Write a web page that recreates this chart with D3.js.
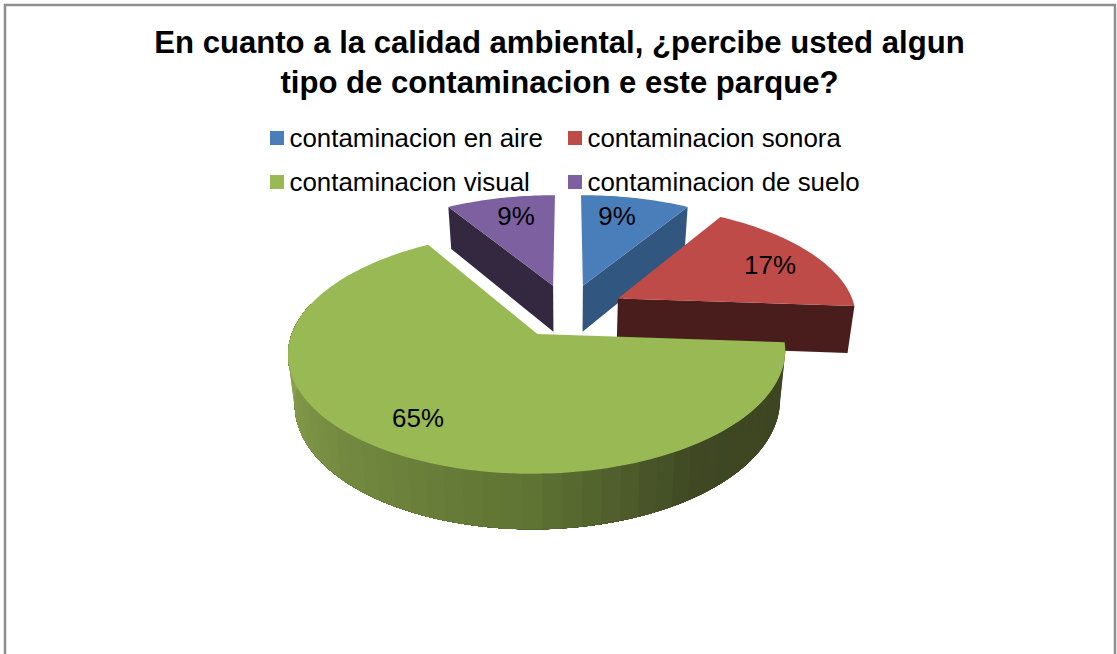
<!DOCTYPE html>
<html><head><meta charset="utf-8">
<script src="https://cdn.jsdelivr.net/npm/d3@7/dist/d3.min.js"></script>
<style>html,body{margin:0;padding:0;background:#fff}svg{display:block}text{font-family:"Liberation Sans",Arial,sans-serif;fill:#000}</style>
</head><body><svg id="c" width="1117" height="654"></svg>
<script>
const categories = ["contaminacion en aire","contaminacion sonora","contaminacion visual","contaminacion de suelo"];
const values = [8.7,17.4,65.2,8.7];
const labels = ["9%","17%","65%","9%"];
const topColors = ["#4a7ebb","#be4b48","#98b954","#7d60a0"];
const sideColors = ["#31567f","#4a1d1d","#5f7333","#332840"];
const titleLines = ["En cuanto a la calidad ambiental, ¿percibe usted algun","tipo de contaminacion e este parque?"];
const labelPos = [[617,218],[770,267],[418,420],[516,218]];

(function(){
const svg = d3.select("#c");
svg.append("rect").attr("width",1117).attr("height",654).attr("fill","#fff");
svg.append("rect").attr("x",5).attr("y",5).attr("width",1110).attr("height",700)
  .attr("fill","none").attr("stroke","#8f8f8f").attr("stroke-width",2.5);

titleLines.forEach((t,i)=>svg.append("text").attr("x",559.5).attr("y",53+i*40)
  .attr("text-anchor","middle").attr("font-size",31.1).attr("font-weight","bold").text(t));

const legX=[270,568], legY=[131,175];
categories.forEach((c,i)=>{
  const x=legX[i%2], y=legY[Math.floor(i/2)];
  svg.append("rect").attr("x",x).attr("y",y).attr("width",14).attr("height",14).attr("fill",topColors[i]);
  svg.append("text").attr("x",x+19.5).attr("y",y+16).attr("font-size",25.9).text(c);
});

// plane of the pie, in perspective
const CX=568, CY=310.5, R=238, RY=111, K=0.15, EXPLODE=0.24;
const xS=d3.scaleLinear().domain([0,1]).range([CX,CX+R]);
const yS=d3.scaleLinear().domain([0,1]).range([CY,CY+RY]);
const depthY=d3.scaleLinear().domain([207,473]).range([249,528.5]);
const depthX=d3.scaleLinear().domain([CX-100,CX+100]).range([CX-97.6,CX+97.6]);
function project(slice,a){
  const b=(slice.startAngle+slice.endAngle)/2;
  const U=EXPLODE*Math.sin(b)+(a===null?0:Math.sin(a));
  const V=-EXPLODE*Math.cos(b)+(a===null?0:-Math.cos(a));
  const s=1/(1-K*V);
  return [xS(U*s),yS(V*s)];
}
const low=p=>[depthX(p[0]),depthY(p[1])];
const line=d3.line();
const pie=d3.pie().sort(null)(values);
const arcPts=(d,a0,a1)=>{const n=Math.max(2,Math.ceil(Math.abs(a1-a0)/0.02));
  return d3.range(n+1).map(i=>project(d,a0+(a1-a0)*i/n));};
const deg=Math.PI/180;

const rimColor=d3.scaleLinear().domain([94,145,180,225,270]).range(["#3c4421","#3f4823","#5f7333","#748a40","#8da350"]);

function drawSlice(i){
  const d=pie[i];
  const g=svg.append("g");
  const A=project(d,null);
  if(i===0||i===1){
    const E=project(d,d.endAngle);
    g.append("path").attr("d",line([A,E,low(E),low(A)])+"Z").attr("fill",sideColors[i]);
  }
  if(i===3){
    const S=project(d,d.startAngle);
    g.append("path").attr("d",line([A,S,low(S),low(A)])+"Z").attr("fill",sideColors[3]);
  }
  if(i===2){
    const stepA=4*deg, aEnd=Math.min(d.endAngle,285*deg);
    for(let a=d.startAngle;a<aEnd;a+=stepA){
      const up=arcPts(d,a,aEnd), dn=up.map(low).reverse();
      g.append("path").attr("d",line(up.concat(dn))+"Z").attr("fill",rimColor((a+stepA/2)/deg));
    }
  }
  g.append("path").attr("d",line([A].concat(arcPts(d,d.startAngle,d.endAngle)))+"Z").attr("fill",topColors[i]);
}
[3,0,1,2].forEach(drawSlice);

labels.forEach((t,i)=>svg.append("text").attr("x",labelPos[i][0]).attr("y",labelPos[i][1])
  .attr("text-anchor","middle").attr("dominant-baseline","middle").attr("font-size",25.9).text(t));
})();
</script></body></html>
